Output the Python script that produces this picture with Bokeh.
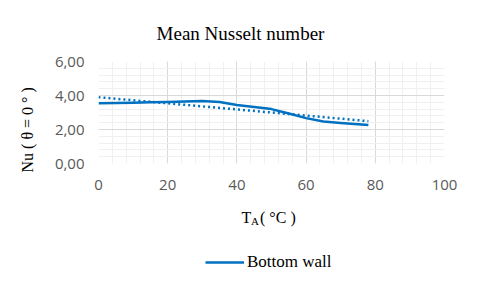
import math
from bokeh.plotting import figure
from bokeh.layouts import column
from bokeh.models import Label, Legend, LegendItem, SingleIntervalTicker, Title
from bokeh.embed import file_html
from bokeh.resources import INLINE

# ---- data ----
temp_c = [0, 5, 10, 15, 20, 25, 30, 35, 40, 45, 50, 55, 60, 65, 70, 75, 78]
nu_bottom = [3.55, 3.56, 3.58, 3.60, 3.62, 3.65, 3.67, 3.62, 3.44, 3.33, 3.20, 2.94, 2.67, 2.47, 2.38, 2.31, 2.27]
trend_temp = [0, 20, 40, 60, 78]
nu_trend = [3.90, 3.54, 3.18, 2.82, 2.49]
x_ticks = [0, 20, 40, 60, 80, 100]
x_tick_labels = ["0", "20", "40", "60", "80", "100"]
y_ticks = [0, 2, 4, 6]
y_tick_labels = ["0,00", "2,00", "4,00", "6,00"]
series_name = "Bottom wall"
chart_title = "Mean Nusselt number"
y_title = "Nu ( \u03b8 = 0 \u00b0 )"

BLUE = "#0070C0"
SERIF = "Liberation Serif"
SANS = "Open Sans"

def strip(height, yr):
    f = figure(width=480, height=height, x_range=(98, 444), y_range=yr,
               output_backend="svg", toolbar_location=None, title=None,
               x_axis_location=None, y_axis_location=None,
               min_border_left=98, min_border_right=36, min_border_top=0, min_border_bottom=0)
    f.outline_line_color = None
    f.xgrid.visible = False
    f.ygrid.visible = False
    f.border_fill_color = "white"
    f.background_fill_color = "white"
    return f

# ---------------- top strip: title ----------------
t = strip(45, (0, 45))
t.add_layout(Label(text=chart_title, x=240, y=12, text_font=SERIF, text_font_size="19px",
                   text_color="black", text_align="center", text_baseline="alphabetic"))

# ---------------- main plot ----------------
p = figure(width=480, height=155, x_range=(0, 100), y_range=(0, 6),
           output_backend="svg", toolbar_location=None, title=None,
           min_border_left=98, min_border_right=36, min_border_top=16,
           min_border_bottom=37)
p.outline_line_color = None
p.background_fill_color = "white"
p.border_fill_color = "white"

p.xaxis.ticker = SingleIntervalTicker(interval=20, num_minor_ticks=5)
p.yaxis.ticker = SingleIntervalTicker(interval=2, num_minor_ticks=5)
p.xaxis.major_label_overrides = dict(zip(x_ticks, x_tick_labels))
p.yaxis.major_label_overrides = dict(zip(y_ticks, y_tick_labels))
for ax in (p.xaxis, p.yaxis):
    ax.axis_line_color = None
    ax.major_tick_line_color = None
    ax.minor_tick_line_color = None
    ax.major_tick_out = 0
    ax.major_tick_in = 0
    ax.minor_tick_out = 0
    ax.major_label_text_font = SANS
    ax.major_label_text_font_size = "15px"
    ax.major_label_text_color = "#595959"
p.yaxis.major_label_standoff = 14
p.xaxis.major_label_standoff = 16

for g in (p.xgrid, p.ygrid):
    g.grid_line_color = "#d9d9d9"
    g.grid_line_width = 1
    g.minor_grid_line_color = "#f0f0f0"
    g.minor_grid_line_width = 1

p.line(temp_c, nu_bottom, line_color=BLUE, line_width=2.5, line_join="round")
p.line(trend_temp, nu_trend, line_color=BLUE, line_width=2.5, line_dash="2 3")

p.add_layout(Title(text=y_title, align="left", offset=-9, standoff=31,
                   text_font=SERIF, text_font_size="16px", text_font_style="normal",
                   text_color="black"), "left")

# ---------------- bottom strip: axis title + legend ----------------
# y coordinates: 100 + distance above the bottom edge of the picture
b = strip(88, (100, 188))

def lab(text, x, y, size):
    b.add_layout(Label(text=text, x=x, y=y, text_font=SERIF, text_font_size=size,
                       text_color="black", text_align="left", text_baseline="alphabetic"))

lab("T", 241, 171, "16px")
lab("A", 250.5, 168, "11px")
lab("( \u00b0C )", 259.5, 171, "16px")

# legend sample renderer (its data fall outside this strip's visible range)
r_leg = b.line(temp_c, nu_bottom, line_color=BLUE, line_width=2.5)
legend = Legend(items=[LegendItem(label=series_name, renderers=[r_leg])],
                location=(107, 16), border_line_color=None,
                background_fill_alpha=0, padding=0, margin=0,
                glyph_width=39, glyph_height=20, label_height=20,
                label_standoff=3, label_text_font=SERIF,
                label_text_font_size="17px", label_text_color="black")
b.add_layout(legend)

layout = column(t, p, b, spacing=0)
open("out.html", "w").write(file_html(layout, INLINE))
